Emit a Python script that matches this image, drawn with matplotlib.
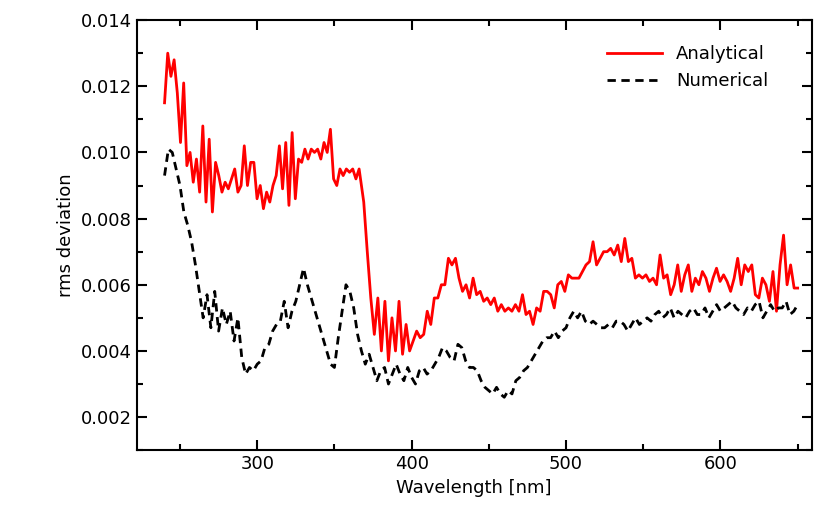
import matplotlib.pyplot as plt
import numpy as np
from matplotlib.ticker import MultipleLocator

# analytical curve: before the step (240-367.5 nm) and after it (370-650 nm)
analytical_pre = [
    0.0115, 0.0130, 0.0123, 0.0128, 0.0118, 0.0103, 0.0121, 0.0096, 0.0100, 0.0091,
    0.0098, 0.0088, 0.0108, 0.0085, 0.0104, 0.0082, 0.0097, 0.0093, 0.0088, 0.0091,
    0.0089, 0.0092, 0.0095, 0.0088, 0.0090, 0.0102, 0.0090, 0.0097, 0.0097, 0.0086,
    0.0090, 0.0083, 0.0088, 0.0085, 0.0090, 0.0093, 0.0102, 0.0089, 0.0103, 0.0084,
    0.0106, 0.0086, 0.0098, 0.0097, 0.0101, 0.0098, 0.0101, 0.0100, 0.0101, 0.0098,
    0.0103, 0.0100, 0.0107, 0.0092, 0.0090, 0.0095, 0.0093, 0.0095, 0.0094, 0.0095,
    0.0092, 0.0095,
]
analytical_post = [
    0.0085, 0.0070, 0.0056, 0.0045, 0.0056, 0.0040, 0.0055, 0.0037,
    0.0050, 0.0040, 0.0055, 0.0039, 0.0048, 0.0040, 0.0043, 0.0046, 0.0044, 0.0045,
    0.0052, 0.0048, 0.0056, 0.0056, 0.0060, 0.0060, 0.0068, 0.0066, 0.0068, 0.0062,
    0.0058, 0.0060, 0.0056, 0.0062, 0.0057, 0.0058, 0.0055, 0.0056, 0.0054, 0.0056,
    0.0052, 0.0054, 0.0052, 0.0053, 0.0052, 0.0054, 0.0052, 0.0057, 0.0051, 0.0052,
    0.0048, 0.0053, 0.0052, 0.0058, 0.0058, 0.0057, 0.0053, 0.0060, 0.0061, 0.0058,
    0.0063, 0.0062, 0.0062, 0.0062, 0.0064, 0.0066, 0.0067, 0.0073, 0.0066, 0.0068,
    0.0070, 0.0070, 0.0071, 0.0069, 0.0072, 0.0067, 0.0074, 0.0067, 0.0068, 0.0062,
    0.0063, 0.0062, 0.0063, 0.0061, 0.0062, 0.0060, 0.0069, 0.0062, 0.0063, 0.0057,
    0.0060, 0.0066, 0.0058, 0.0063, 0.0066, 0.0058, 0.0062, 0.0060, 0.0064, 0.0062,
    0.0058, 0.0062, 0.0065, 0.0061, 0.0063, 0.0061, 0.0058, 0.0062, 0.0068, 0.0060,
    0.0066, 0.0064, 0.0066, 0.0057, 0.0056, 0.0062, 0.0060, 0.0055, 0.0064, 0.0052,
    0.0066, 0.0075, 0.0060, 0.0066, 0.0059, 0.0059,
]

numerical = [
    0.0093, 0.0101, 0.0100, 0.0095, 0.0090, 0.0082, 0.0078, 0.0073, 0.0066, 0.0058,
    0.0050, 0.0057, 0.0047, 0.0058, 0.0046, 0.0053, 0.0048, 0.0052, 0.0043, 0.0050,
    0.0038, 0.0033, 0.0035, 0.0034, 0.0036, 0.0037, 0.0041, 0.0042, 0.0046, 0.0048,
    0.0049, 0.0055, 0.0047, 0.0052, 0.0055, 0.0060, 0.0065, 0.0060, 0.0056, 0.0052,
    0.0048, 0.0044, 0.0040, 0.0036, 0.0035, 0.0044, 0.0052, 0.0060, 0.0058, 0.0053,
    0.0045, 0.0040, 0.0036, 0.0039, 0.0035, 0.0031, 0.0034, 0.0035, 0.0030, 0.0033,
    0.0036, 0.0033, 0.0031, 0.0035, 0.0032, 0.0030, 0.0034, 0.0035, 0.0033, 0.0034,
    0.0036, 0.0038, 0.0041, 0.0040, 0.0038, 0.0037, 0.0042, 0.0041, 0.0037, 0.0035,
    0.0035, 0.0034, 0.0031, 0.0029, 0.0028, 0.0027, 0.0029, 0.0027, 0.0026, 0.0028,
    0.0027, 0.0031, 0.0032, 0.0034, 0.0035, 0.0037, 0.0039, 0.0041, 0.0043, 0.0044,
    0.0044, 0.0046, 0.0044, 0.0046, 0.0047, 0.0050, 0.0052, 0.0050, 0.0052, 0.0049,
    0.0048, 0.0049, 0.0048, 0.0047, 0.0047, 0.0048, 0.0047, 0.0049, 0.0049, 0.0048,
    0.0046, 0.0048, 0.0050, 0.0048, 0.0049, 0.0050, 0.0049, 0.0051, 0.0052, 0.0050,
    0.0051, 0.0053, 0.0050, 0.0052, 0.0051, 0.0050, 0.0052, 0.0053, 0.0051, 0.0051,
    0.0053, 0.0050, 0.0052, 0.0054, 0.0052, 0.0053, 0.0054, 0.0055, 0.0053, 0.0052,
    0.0051, 0.0053, 0.0052, 0.0054, 0.0055, 0.0050, 0.0052, 0.0054, 0.0052, 0.0053,
    0.0053, 0.0055, 0.0051, 0.0052, 0.0054,
]

wl_a = np.concatenate([np.linspace(240, 366, len(analytical_pre)),
                       np.linspace(369, 650, len(analytical_post))])
analytical = analytical_pre + analytical_post
wl_n = np.linspace(240, 650, len(numerical))

fig = plt.figure(figsize=(8.14, 5.29), dpi=100)
ax = fig.add_axes([0.168, 0.149, 0.829, 0.813])

ax.plot(wl_a, analytical, color="red", lw=2, label="Analytical")
ax.plot(wl_n, numerical, color="black", lw=2, ls=(0, (3, 2)), label="Numerical")

ax.set_xlim(222, 659)
ax.set_ylim(0.001, 0.014)
ax.xaxis.set_major_locator(MultipleLocator(100))
ax.xaxis.set_minor_locator(MultipleLocator(50))
ax.yaxis.set_major_locator(MultipleLocator(0.002))
ax.yaxis.set_minor_locator(MultipleLocator(0.001))
ax.tick_params(which="both", direction="in", top=True, right=True, labelsize=13, width=1.5)
ax.tick_params(which="major", length=7)
ax.tick_params(which="minor", length=4)
ax.set_yticks([0.002, 0.004, 0.006, 0.008, 0.010, 0.012, 0.014])
ax.set_yticklabels(["0.002", "0.004", "0.006", "0.008", "0.010", "0.012", "0.014"])
for s in ax.spines.values():
    s.set_linewidth(1.5)

ax.set_xlabel("Wavelength [nm]", fontsize=13)
ax.set_ylabel("rms deviation", fontsize=13)
ax.legend(loc="upper right", frameon=False, fontsize=13, handlelength=3,
          bbox_to_anchor=(0.96, 0.98))

fig.savefig("out.png")
